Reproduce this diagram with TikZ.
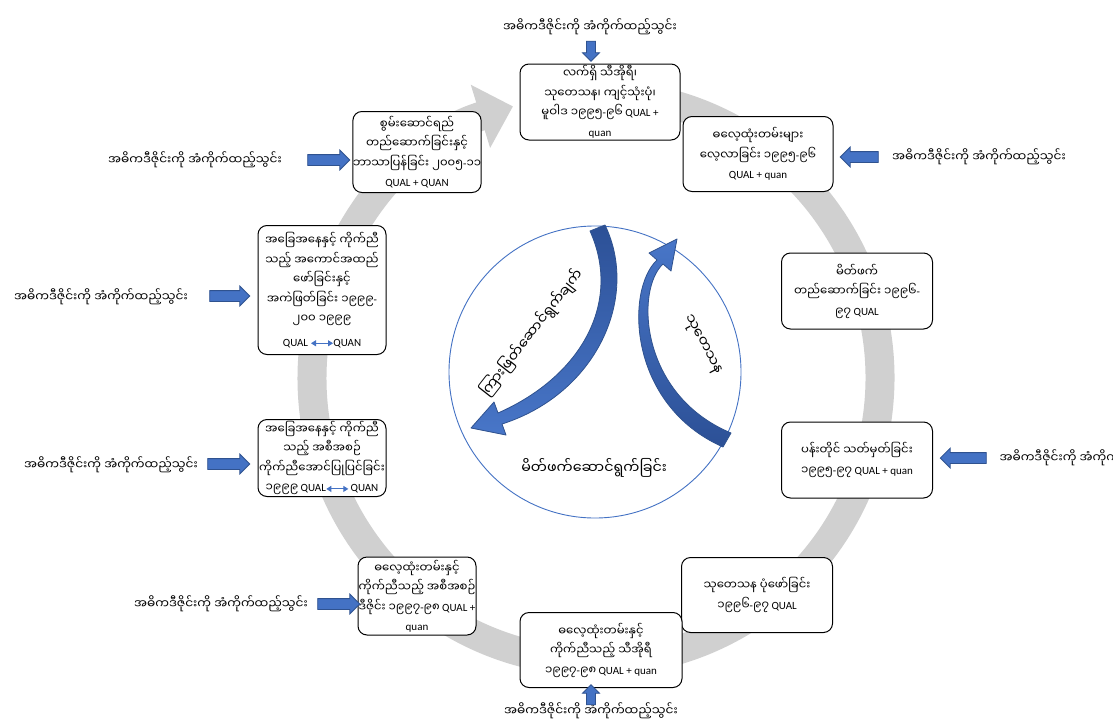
\documentclass[tikz,border=0pt]{standalone}
\usepackage{fontspec}
\setmainfont{Carlito}
\newfontfamily\mm[Script=Myanmar, Scale=1.06]{Noto Sans Myanmar UI}
\usetikzlibrary{arrows.meta,shapes.arrows}

\definecolor{ringgray}{RGB}{208,208,208}
\definecolor{arrowblue}{RGB}{68,114,196}
\definecolor{arrowline}{RGB}{47,82,143}
\definecolor{bendlight}{RGB}{72,118,200}
\definecolor{benddark}{RGB}{44,80,150}

% small two-headed arrow between QUAL and QUAN
\newcommand{\qqarrow}{\tikz[baseline=-0.55ex]\draw [arrowblue, line width=0.9pt, {Triangle[length=5pt,width=6pt]}-{Triangle[length=5pt,width=6pt]}] (0pt,0pt) -- (22pt,0pt);}
\newcommand{\adapt}{{\mm အဓိကဒီဇိုင်းကို အံကိုက်ထည့်သွင်း}}

\tikzset{
  stage/.style={draw=black, line width=1pt, fill=white, rounded corners=9pt,
    align=center, inner sep=0pt, font=\fontsize{11}{19.5}\selectfont},
  feed/.style={single arrow, draw=arrowline, fill=arrowblue, line width=0.8pt,
    inner sep=5pt, minimum width=19pt, single arrow head extend=4.5pt},
  feedtext/.style={font=\fontsize{11.5}{13}\selectfont},
  bend arrow/.style={draw=arrowline, line width=0.8pt, line join=round},
  ring/.style={draw=ringgray, line width=29pt, -{Triangle[width=64pt,length=34pt]}}
}

\begin{document}
\begin{tikzpicture}[x=1pt, y=-1pt]
  \clip (0,0) rectangle (1113,720);
  \fill [white] (0,0) rectangle (1113,720);

  % grey cycle behind the stages
  \draw [ring] (596,378) ++(-85:284) arc [start angle=-85, end angle=253, radius=284];

  % centre
  \node [circle, draw=arrowblue, line width=0.9pt, minimum size=292pt, inner sep=0pt] (core) at (595,372) {};
  \draw [bend arrow, top color=benddark, bottom color=bendlight]
    (605,225) .. controls (640,298) and (596,394) .. (502,424) -- (506,435) -- (471,428)
    -- (494,402) -- (498,413) .. controls (582,376) and (622,302) .. (590,231) -- cycle;
  \draw [bend arrow, top color=bendlight, bottom color=benddark]
    (731,433) .. controls (640,395) and (635,290) .. (663,264) -- (671,271) -- (677,239)
    -- (649,253) -- (657,260) .. controls (625,290) and (628,405) .. (723,447) -- cycle;
  \node [rotate=52, font=\fontsize{13.5}{14}\selectfont] (midway) at (532,333) {\mm ကြားဖြတ်ဆောင်ရွက်ချက်};
  \node [rotate=-62, font=\fontsize{13.5}{14}\selectfont] (research) at (702,345) {\mm သုတေသန};
  \node [font=\fontsize{13.5}{14}\selectfont] (partner) at (594,468) {\mm မိတ်ဖက်ဆောင်ရွက်ခြင်း};

  % stages round the cycle
  \node [stage, minimum width=160pt, minimum height=76pt] (theory) at (600,102)
    {{\mm လက်ရှိ သီအိုရီ၊}\\{\mm သုတေသန၊ ကျင့်သုံးပုံ၊}\\{\mm မူဝါဒ ၁၉၉၅}-{\mm ၉၆} QUAL +\\quan};
  \node [stage, minimum width=150pt, minimum height=75pt] (custom) at (758,154)
    {{\mm ဓလေ့ထုံးတမ်းများ}\\{\mm လေ့လာခြင်း ၁၉၉၅}-{\mm ၉၆}\\QUAL + quan};
  \node [stage, minimum width=151pt, minimum height=76pt] (partners) at (857,291)
    {{\mm မိတ်ဖက်}\\{\mm တည်ဆောက်ခြင်း ၁၉၉၆}-\\{\mm ၉၇} QUAL};
  \node [stage, minimum width=151pt, minimum height=76pt] (goals) at (857,460)
    {{\mm ပန်းတိုင် သတ်မှတ်ခြင်း}\\{\mm ၁၉၉၅}-{\mm ၉၇} QUAL + quan};
  \node [stage, minimum width=151pt, minimum height=75pt] (design) at (757,595)
    {{\mm သုတေသန ပုံဖော်ခြင်း}\\{\mm ၁၉၉၆}-{\mm ၉၇} QUAL};
  \node [stage, minimum width=162pt, minimum height=75pt] (cultheory) at (601,650)
    {{\mm ဓလေ့ထုံးတမ်းနှင့်}\\{\mm ကိုက်ညီသည့် သီအိုရီ}\\{\mm ၁၉၉၇}-{\mm ၉၈} QUAL + quan};
  \node [stage, minimum width=118pt, minimum height=78pt] (program) at (417,596)
    {{\mm ဓလေ့ထုံးတမ်းနှင့်}\\{\mm ကိုက်ညီသည့် အစီအစဉ်}\\{\mm ဒီဇိုင်း ၁၉၉၇}-{\mm ၉၈} QUAL +\\quan};
  \node [stage, minimum width=128pt, minimum height=77pt] (adjust) at (322,458)
    {{\mm အခြေအနေနှင့် ကိုက်ညီ}\\{\mm သည့် အစီအစဉ်}\\{\mm ကိုက်ညီအောင်ပြုပြင်ခြင်း}\\{\mm ၁၉၉၉} QUAL\qqarrow\,QUAN};
  \node [stage, minimum width=128pt, minimum height=129pt] (apply) at (322,290)
    {{\mm အခြေအနေနှင့် ကိုက်ညီ}\\{\mm သည့် အကောင်အထည်}\\{\mm ဖော်ခြင်းနှင့်}\\{\mm အကဲဖြတ်ခြင်း ၁၉၉၉}-\\{\mm ၂၀၀ ၁၉၉၉}\\[4pt]QUAL \qqarrow QUAN};
  \node [stage, minimum width=118pt, minimum height=81pt] (capacity) at (417,152)
    {{\mm စွမ်းဆောင်ရည်}\\{\mm တည်ဆောက်ခြင်းနှင့်}\\{\mm ဘာသာပြန်ခြင်း ၂၀၀၅}-{\mm ၁၁}\\QUAL + QUAN};

  % adapted inputs
  \node [feedtext] (inTop) at (590,27) {\adapt};
  \node [feed, inner sep=4pt, minimum height=20pt, minimum width=17pt, single arrow head extend=4pt, shape border rotate=270] (fTop) at (591,49) {};
  \node [feedtext] (inCap) at (195,160) {\adapt};
  \node [feed, minimum height=42pt] (fCap) at (326,160) {};
  \node [feedtext] (inCus) at (979,157) {\adapt};
  \node [feed, minimum height=38pt, shape border rotate=180] (fCus) at (862,157) {};
  \node [feedtext] (inApp) at (101,297) {\adapt};
  \node [feed, minimum height=40pt] (fApp) at (227,296) {};
  \node [feedtext, anchor=west] (inGoa) at (996,458) {\adapt};
  \node [feed, minimum height=46pt, shape border rotate=180] (fGoa) at (966,458) {};
  \node [feedtext] (inAdj) at (111,465) {\adapt};
  \node [feed, minimum height=42pt] (fAdj) at (226,464) {};
  \node [feedtext] (inPro) at (221,604) {\adapt};
  \node [feed, minimum height=42pt] (fPro) at (336,604) {};
  \node [feedtext] (inBot) at (591,711) {\adapt};
  \node [feed, inner sep=4pt, minimum height=20pt, minimum width=17pt, single arrow head extend=4pt, shape border rotate=90] (fBot) at (591,697) {};
\end{tikzpicture}
\end{document}
